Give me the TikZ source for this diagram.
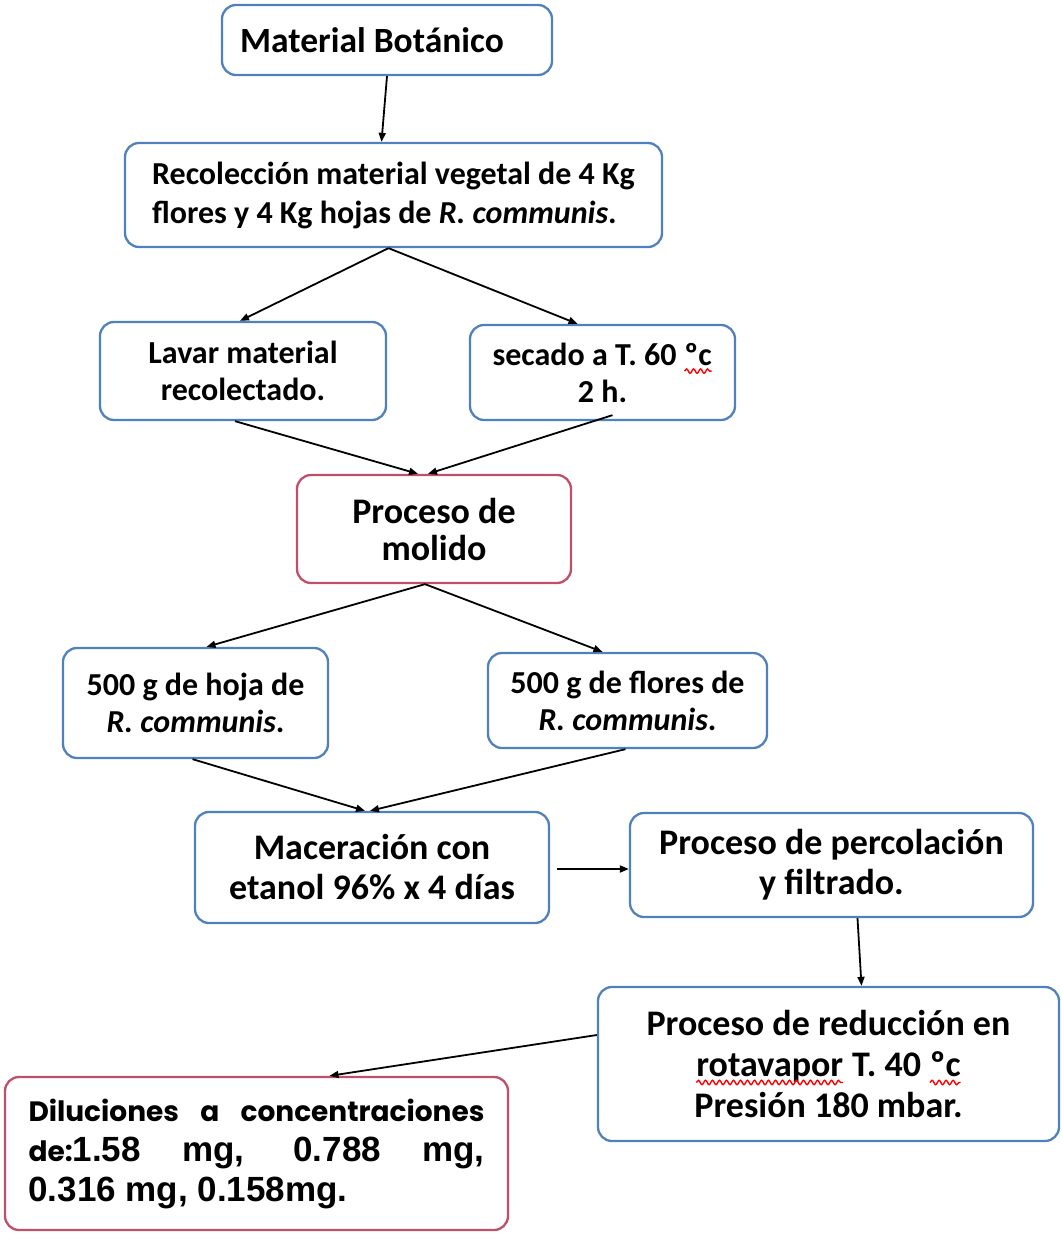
\documentclass[tikz,border=0pt]{standalone}
\usepackage{fontspec}
\setmainfont{Carlito}
\newfontfamily\arialf{Liberation Sans}
\newfontfamily\gothicf{Poppins}
\usetikzlibrary{arrows.meta,decorations.pathmorphing}
\definecolor{boxblue}{RGB}{79,129,189}
\definecolor{boxred}{RGB}{192,80,105}
\newcommand\sqgl[1]{\begin{tikzpicture}[baseline=(sq.base),x=1cm,y=1cm,sharp corners]\node[inner sep=0pt,outer sep=0pt,draw=none,minimum width=0pt,minimum height=0pt](sq){#1};\draw[red,line width=1.4pt,sharp corners,solid,decorate,decoration={snake,amplitude=2.2pt,segment length=7pt}]([yshift=-6pt]sq.base west)--([yshift=-6pt]sq.base east);\end{tikzpicture}}
\begin{document}
\begin{tikzpicture}[x=1pt,y=-1pt,
  bbox/.style={draw=boxblue,line width=2.3pt,rounded corners=14pt,fill=white,inner sep=0pt,align=center},
  rbox/.style={bbox,draw=boxred},
  arr/.style={line width=1.8pt,-{Triangle[length=9pt,width=7pt]}}]
\useasboundingbox (0,0) rectangle (1061,1234);
\fill[white] (0,0) rectangle (1061,1234);

\node[bbox,minimum width=330pt,minimum height=70pt] (mat) at (387,40) {};
\node[font=\fontsize{35.5}{40}\selectfont\bfseries] (matT) at (372,40) {Material Botánico};

\node[bbox,minimum width=537pt,minimum height=104pt,align=left,font=\fontsize{32}{39}\selectfont\bfseries] (rec) at (393.5,195)
 {Recolección material vegetal de 4 Kg\\flores y 4 Kg hojas de \textit{R. communis}.};

\node[bbox,minimum width=286pt,minimum height=98pt,font=\fontsize{32}{37}\selectfont\bfseries] (lav) at (243,371)
 {Lavar material\\recolectado.};
\node[bbox,minimum width=265pt,minimum height=95pt,font=\fontsize{32}{37}\selectfont\bfseries] (sec) at (602.5,372.5)
 {secado a T. 60 \sqgl{ºc}\\2 h.};

\node[rbox,minimum width=274pt,minimum height=108pt,font=\fontsize{36}{37}\selectfont\bfseries] (mol) at (434,529)
 {Proceso de\\molido};

\node[bbox,minimum width=265pt,minimum height=110pt,font=\fontsize{32}{37}\selectfont\bfseries] (hoja) at (195.5,703)
 {500 g de hoja de\\\textit{R. communis}.};
\node[bbox,minimum width=279pt,minimum height=95pt,font=\fontsize{32}{37}\selectfont\bfseries] (flo) at (627.5,700.5)
 {500 g de flores de\\\textit{R. communis}.};

\node[bbox,minimum width=354pt,minimum height=111pt,font=\fontsize{36}{40}\selectfont\bfseries] (mac) at (372,867.5)
 {Maceración con\\etanol 96\% x 4 días};
\node[bbox,minimum width=403pt,minimum height=104pt,font=\fontsize{36}{40}\selectfont\bfseries] (per) at (831.5,865)
 {Proceso de percolación\\y filtrado.};

\node[bbox,minimum width=461pt,minimum height=154pt,font=\fontsize{36}{41}\selectfont\bfseries] (red) at (828.5,1064)
 {Proceso de reducción en\\\sqgl{rotavapor} T. 40 \sqgl{ºc}\\Presión 180 mbar.};

\node[rbox,minimum width=503pt,minimum height=153pt,align=left,font=\fontsize{35}{40}\selectfont\bfseries] (dil) at (256.5,1153.5)
 {\makebox[456pt][s]{\gothicf\bfseries\fontsize{28}{40}\selectfont Diluciones a concentraciones}\\
  \makebox[456pt][s]{\gothicf\bfseries\fontsize{28}{40}\selectfont de:\arialf\bfseries\fontsize{35}{40}\selectfont 1.58 mg, 0.788 mg,}\\
  {\arialf\bfseries\fontsize{35}{40}\selectfont 0.316 mg, 0.158mg.}};

\draw[arr] (mat.south) -- ([xshift=-12pt]rec.north);
\draw[arr] ([xshift=-5pt]rec.south) -- ([xshift=-3pt]lav.north);
\draw[arr] ([xshift=-5pt]rec.south) -- ([xshift=-25pt]sec.north);
\draw[arr] ([xshift=-8pt]lav.south) -- ([xshift=-16pt]mol.north);
\draw[arr] ([xshift=10pt,yshift=6pt]sec.south) -- ([xshift=-6pt]mol.north);
\draw[arr] ([xshift=-9pt]mol.south) -- ([xshift=11pt]hoja.north);
\draw[arr] ([xshift=-9pt]mol.south) -- ([xshift=-25pt]flo.north);
\draw[arr] ([xshift=-3pt]hoja.south) -- ([xshift=-7pt]mac.north);
\draw[arr] ([xshift=-2pt]flo.south) -- ([xshift=-2pt]mac.north);
\draw[arr] ([xshift=7pt,yshift=-1.5pt]mac.east) -- ([yshift=-4pt]per.west);
\draw[arr] ([xshift=26pt]per.south) -- ([xshift=33pt]red.north);
\draw[arr] ([yshift=29pt]red.west) -- ([xshift=73pt]dil.north);
\end{tikzpicture}
\end{document}
